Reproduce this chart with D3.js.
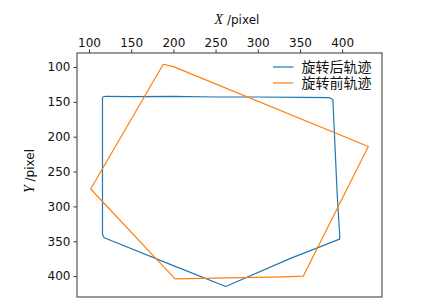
<!DOCTYPE html>
<html lang="zh">
<head>
    <meta charset="utf-8">
    <title>Trajectory</title>
    <script src="https://d3js.org/d3.v7.min.js"></script>
    <style>
        body { margin: 0; background: #fff; }
        text { fill: #111; }
    </style>
</head>
<body>
    <script>
        var width = 429, height = 307;

        // trajectory after rotation (blue)
        var afterX = [116, 120, 150, 200, 250, 300, 350, 385, 389, 391, 394, 397, 397, 338, 262, 200, 118, 116, 116, 116];
        var afterY = [143, 142, 142.5, 142, 143, 143, 143.5, 144, 147, 200, 280, 340, 347, 375, 415, 385, 345, 340, 250, 143];

        // trajectory before rotation (orange)
        var beforeX = [188, 200, 431, 354, 330, 202, 102, 188];
        var beforeY = [96, 99.5, 214, 400, 401, 404, 275, 96];

        var xTicks = [100, 150, 200, 250, 300, 350, 400];
        var yTicks = [100, 150, 200, 250, 300, 350, 400];
        var legendNames = ['旋转后轨迹', '旋转前轨迹'];
        var colors = ['#1f77b4', '#ff7f0e'];

        var margin = {left: 77, right: 382, top: 53, bottom: 297};

        var svg = d3.select('body')
            .append('svg')
            .attr('width', width)
            .attr('height', height);

        var x = d3.scaleLinear().domain([85.8, 447.2]).range([margin.left, margin.right]);
        var y = d3.scaleLinear().domain([79.9, 430]).range([margin.top, margin.bottom]);

        // axes: x on top, y on left (inverted)
        var xAxis = svg.append('g')
            .attr('transform', 'translate(0,' + margin.top + ')')
            .call(d3.axisTop(x).tickValues(xTicks).tickSize(3.5).tickPadding(3));
        var yAxis = svg.append('g')
            .attr('transform', 'translate(' + margin.left + ',0)')
            .call(d3.axisLeft(y).tickValues(yTicks).tickSize(3.5).tickPadding(3));

        [xAxis, yAxis].forEach(function(a) {
            a.select('.domain').remove();
            a.selectAll('line').attr('stroke', '#333');
            a.selectAll('text')
                .style('font-family', 'DejaVu Sans, sans-serif')
                .style('font-size', '12px')
                .style('fill', '#111');
        });

        // frame
        svg.append('rect')
            .attr('x', margin.left)
            .attr('y', margin.top)
            .attr('width', margin.right - margin.left)
            .attr('height', margin.bottom - margin.top)
            .attr('fill', 'none')
            .attr('stroke', '#555')
            .attr('stroke-width', 1.2);

        var line = d3.line()
            .x(function(d) { return x(d[0]); })
            .y(function(d) { return y(d[1]); });

        var series = [d3.zip(afterX, afterY), d3.zip(beforeX, beforeY)];

        svg.selectAll('path.track')
            .data(series)
            .join('path')
            .attr('class', 'track')
            .attr('d', line)
            .attr('fill', 'none')
            .attr('stroke', function(d, i) { return colors[i]; })
            .attr('stroke-width', 1.2)
            .attr('stroke-linejoin', 'round');

        // axis titles
        var xt = svg.append('text')
            .attr('x', 237)
            .attr('y', 24)
            .attr('text-anchor', 'middle')
            .style('font-size', '12px')
            .style('font-family', 'DejaVu Sans, sans-serif');
        xt.append('tspan').text('X').style('font-family', 'Liberation Serif, serif').style('font-style', 'italic').style('font-size', '14px');
        xt.append('tspan').text(' /pixel');

        var yt = svg.append('text')
            .attr('transform', 'translate(34,171) rotate(-90)')
            .attr('text-anchor', 'middle')
            .style('font-size', '12px')
            .style('font-family', 'DejaVu Sans, sans-serif');
        yt.append('tspan').text('Y').style('font-family', 'Liberation Serif, serif').style('font-style', 'italic').style('font-size', '14px');
        yt.append('tspan').text(' /pixel');

        // legend
        var legend = svg.append('g')
            .selectAll('g')
            .data(legendNames)
            .join('g')
            .attr('transform', function(d, i) { return 'translate(273,' + (67 + i * 16) + ')'; });
        legend.append('line')
            .attr('x1', 0).attr('x2', 20.5)
            .attr('stroke', function(d, i) { return colors[i]; })
            .attr('stroke-width', 1.2);
        legend.append('text')
            .attr('x', 28.5)
            .attr('dy', '0.36em')
            .style('font-family', 'Noto Sans CJK SC, sans-serif')
            .style('font-size', '14px')
            .text(function(d) { return d; });
    </script>
</body>
</html>
